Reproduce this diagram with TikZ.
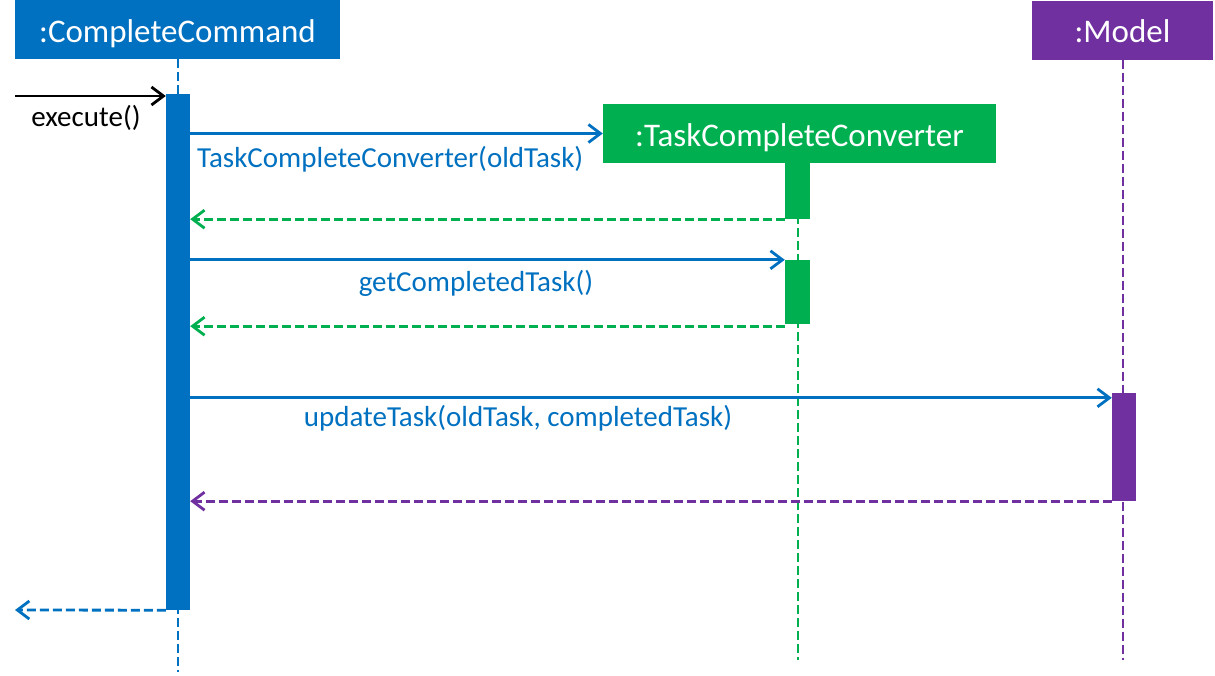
\documentclass[tikz,border=0pt]{standalone}
\usepackage{fontspec}
\setmainfont{Carlito}
\usetikzlibrary{arrows.meta, positioning}

\definecolor{cmdblue}{HTML}{0070C0}
\definecolor{convgreen}{HTML}{00B050}
\definecolor{modelpurple}{HTML}{7030A0}

\begin{document}
\begin{tikzpicture}[
  x=1pt, y=-1pt,
  header/.style={fill=#1, text=white, inner sep=0pt, minimum height=59pt,
    text height=33pt, text depth=8pt, font=\fontsize{33}{38}\selectfont},
  lifeline/.style={#1, line width=2.6pt, dash pattern=on 9pt off 4pt},
  actbar/.style={fill=#1, inner sep=0pt, minimum width=24pt},
  call/.style={-{Straight Barb[length=12pt, width=18pt]}, line width=2.8pt, cmdblue},
  reply/.style={-{Straight Barb[length=12pt, width=18pt]}, line width=2.8pt, dash pattern=on 9pt off 4pt, #1},
  msg/.style={text=cmdblue, inner sep=0pt, font=\fontsize{29}{34}\selectfont}
]
\useasboundingbox (0,0) rectangle (1215,675);

\node[header=cmdblue, minimum width=325pt] (cc) at (177.5,29.5) {:CompleteCommand};
\node[header=convgreen, minimum width=393pt] (tcc) at (799.5,133.5) {:TaskCompleteConverter};
\node[header=modelpurple, minimum width=181pt] (model) at (1122.5,30) {:Model};

\coordinate (ccend) at (178,672);
\coordinate (tccend) at (798,660);
\coordinate (modelend) at (1123,660);

\draw[lifeline=cmdblue] (cc.south -| ccend) -- (ccend);
\draw[lifeline=convgreen] (tcc.south -| tccend) -- (tccend);
\draw[lifeline=modelpurple] (model.south -| modelend) -- (modelend);

\node[actbar=cmdblue, minimum height=516pt] (ccact) at (178,352) {};
\node[actbar=convgreen, minimum height=56pt, minimum width=25pt] (tccact1) at (797.5,191) {};
\node[actbar=convgreen, minimum height=64pt, minimum width=25pt] (tccact2) at (797.5,292) {};
\node[actbar=modelpurple, minimum height=108pt] (modelact) at (1124,447) {};

\coordinate (start) at (15,96);
\coordinate (finish) at (15,610);
\coordinate (getret) at ([yshift=-2pt]tccact2.south west);
\coordinate (updcall) at ([yshift=-5pt]modelact.north west);

\draw[call, black] (start) -- (start -| ccact.west);
\node[inner sep=0pt, font=\fontsize{29}{34}\selectfont] (exec) at (86,118) {execute()};

\draw[call] (ccact.east |- tcc.west) -- (tcc.west);
\node[msg, anchor=west] (convlabel) at (197,159) {TaskCompleteConverter(oldTask)};
\draw[reply=convgreen] (tccact1.south west) -- (ccact.east |- tccact1.south west);

\draw[call] (ccact.east |- tccact2.north west) -- (tccact2.north west);
\node[msg] (getlabel) at (476,283) {getCompletedTask()};
\draw[reply=convgreen] (getret) -- (ccact.east |- getret);

\draw[call] (ccact.east |- updcall) -- (updcall);
\node[msg] (updlabel) at (518,418) {updateTask(oldTask, completedTask)};
\draw[reply=modelpurple] (modelact.south west) -- (ccact.east |- modelact.south west);

\draw[reply=cmdblue] (ccact.south west) -- (finish);
\end{tikzpicture}
\end{document}
